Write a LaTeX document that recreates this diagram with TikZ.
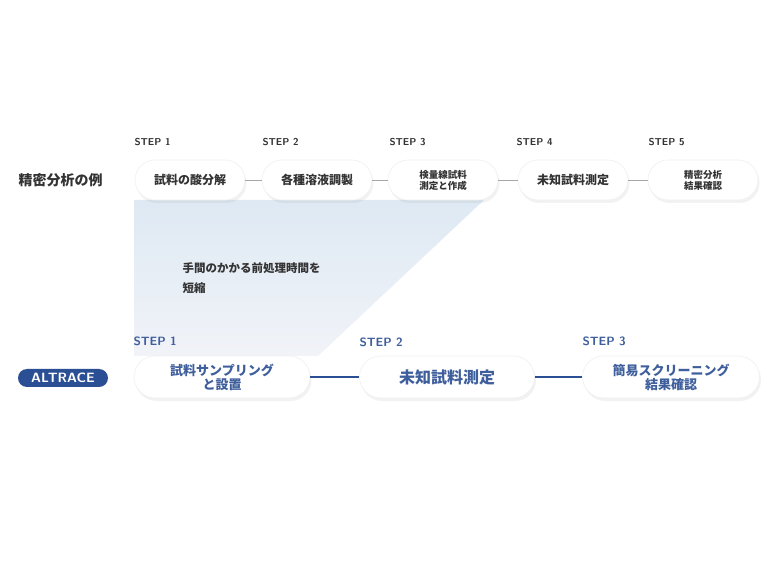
\documentclass[tikz,border=0pt]{standalone}
\usepackage{fontspec}
\setmainfont{Noto Sans CJK JP}
\usetikzlibrary{shadows,shadings}
\definecolor{navy}{HTML}{2B4F95}
\definecolor{stepblue}{HTML}{3E5E9C}
\definecolor{txt}{HTML}{333333}
\tikzset{
 pill/.style={rounded corners=20pt,fill=white,draw=gray!12,line width=0.6pt,minimum height=40pt,align=center,font=\fontsize{12}{13}\selectfont\bfseries,text=txt,
   drop shadow={shadow xshift=1.5pt,shadow yshift=-3pt,opacity=0.10,fill=gray,draw=none}},
 pillsm/.style={pill,font=\fontsize{9.5}{11}\selectfont\bfseries},
 bpill/.style={pill,minimum height=42pt,rounded corners=21pt,text=stepblue,font=\fontsize{13}{14}\selectfont\bfseries},
 bpillbig/.style={bpill,font=\fontsize{16}{17}\selectfont\bfseries},
 steplab/.style={anchor=west,font=\sffamily\bfseries\fontsize{10}{11}\selectfont,text=txt},
 bsteplab/.style={anchor=west,font=\sffamily\bfseries\fontsize{12}{13}\selectfont,text=stepblue},
 conn/.style={draw=gray!70,line width=0.8pt},
 bconn/.style={draw=navy,line width=1.2pt}
}
\begin{document}
\begin{tikzpicture}[x=1pt,y=-1pt]
\useasboundingbox[fill=white] (0,0) rectangle (780,580);
% gradient area
\shade[top color={rgb,255:red,222;green,233;blue,243},bottom color={rgb,255:red,241;green,243;blue,248}]
  (134,200) -- (484,200) -- (318,356) -- (134,356) -- cycle;
\node[anchor=west,font=\fontsize{11.5}{13}\selectfont\bfseries,text=txt] (t1) at (179,268) {手間のかかる前処理時間を};
\node[anchor=west,font=\fontsize{11.5}{13}\selectfont\bfseries,text=txt] (t2) at (179,288) {短縮};
% top row
\node[anchor=west,font=\fontsize{14}{15}\selectfont\bfseries,text=txt] (lab1) at (15,180) {精密分析の例};
\node[pill,minimum width=110pt] (a1) at (190,180) {試料の酸分解};
\node[pill,minimum width=110pt] (a2) at (317,180) {各種溶液調製};
\node[pillsm,minimum width=110pt] (a3) at (443,180) {検量線試料\\測定と作成};
\node[pill,minimum width=110pt] (a4) at (573,180) {未知試料測定};
\node[pillsm,minimum width=110pt] (a5) at (703,180) {精密分析\\結果確認};
\draw[conn] (a1) -- (a2); \draw[conn] (a2) -- (a3); \draw[conn] (a3) -- (a4); \draw[conn] (a4) -- (a5);
\node[steplab] (s1) at (131,142) {STEP 1};
\node[steplab] (s2) at (259,142) {STEP 2};
\node[steplab] (s3) at (386,142) {STEP 3};
\node[steplab] (s4) at (513,142) {STEP 4};
\node[steplab] (s5) at (645,142) {STEP 5};
% bottom row
\node[fill=navy,rounded corners=9pt,minimum width=90pt,minimum height=18pt,inner sep=0pt,text=white,font=\sffamily\bfseries\fontsize{13.5}{13.5}\selectfont] (alt) at (63,378) {ALTRACE};
\node[bpill,minimum width=176pt] (b1) at (222,377) {試料サンプリング\\と設置};
\node[bpillbig,minimum width=175pt] (b2) at (447,377) {未知試料測定};
\node[bpill,minimum width=177pt] (b3) at (671,377) {簡易スクリーニング\\結果確認};
\draw[bconn] (b1) -- (b2); \draw[bconn] (b2) -- (b3);
\node[bsteplab] (bs1) at (130,341) {STEP 1};
\node[bsteplab] (bs2) at (356,342) {STEP 2};
\node[bsteplab] (bs3) at (579,341) {STEP 3};
\end{tikzpicture}
\end{document}
